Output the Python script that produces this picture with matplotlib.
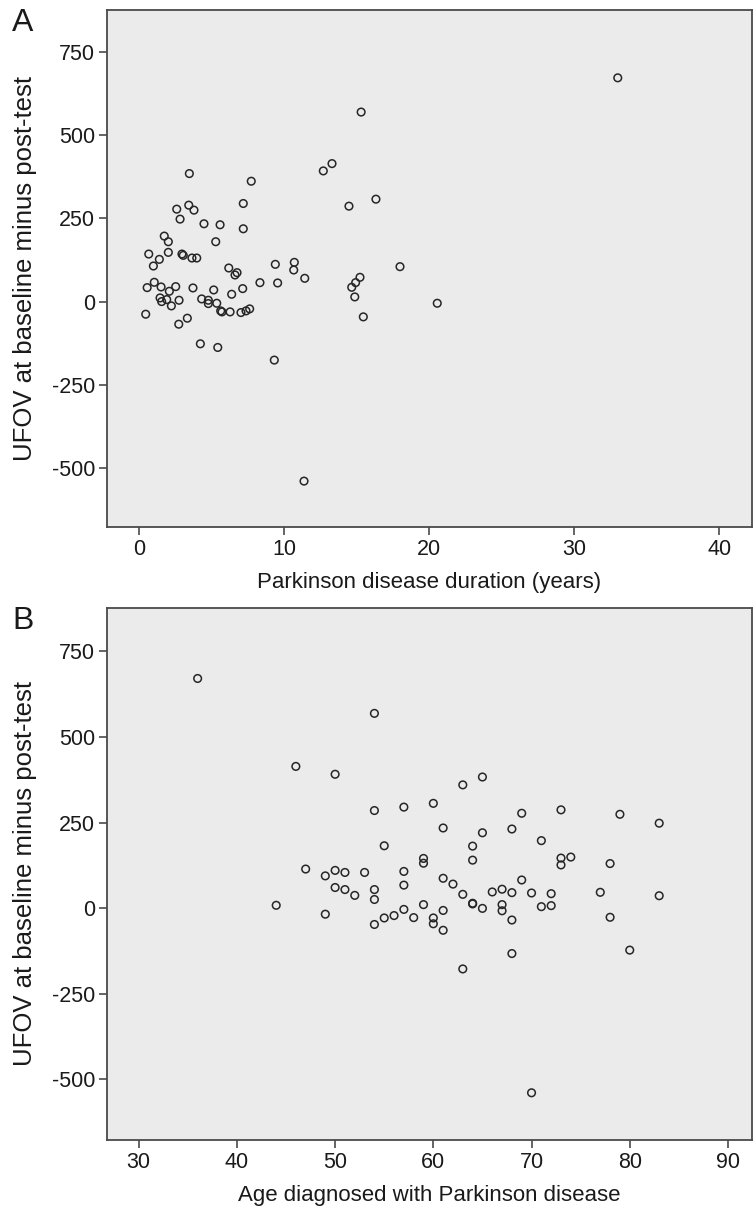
import matplotlib
matplotlib.use("Agg")
import matplotlib.pyplot as plt

plt.rcParams['font.family'] = ['Liberation Sans', 'DejaVu Sans']
plt.rcParams['axes.unicode_minus'] = False

# Panel A: disease duration (years) vs UFOV change
duration = [3.45, 7.72, 7.17, 3.41, 3.77, 2.58, 2.81, 4.46, 5.57, 7.17,
            5.27, 1.72, 2.0, 0.65, 1.38, 0.97, 2.0, 2.94, 3.03, 3.63,
            3.96, 6.17, 6.74, 6.6, 0.54, 1.03, 1.5, 2.07, 2.51, 3.7,
            5.13, 6.37, 7.13, 1.43, 1.54, 1.89, 2.21, 2.74, 4.3, 4.76,
            4.76, 5.34, 5.61, 5.7, 6.26, 7.01, 7.36, 7.61, 0.44, 2.72,
            3.31, 4.21, 5.41,
            15.3, 13.29, 12.69, 16.32, 14.46, 10.69, 10.65, 9.38, 8.32, 9.54,
            11.41, 15.22, 14.92, 14.65, 14.86, 15.45, 17.98, 20.55, 9.31, 11.36,
            33.0]
ufov_a = [385, 362, 295, 290, 275, 278, 248, 234, 231, 219,
          180, 197, 180, 143, 127, 107, 148, 143, 139, 131,
          131, 101, 87, 80, 42, 58, 44, 31, 45, 41,
          35, 22, 39, 11, 0, 6, -13, 4, 8, 4,
          -6, -5, -28, -31, -31, -33, -28, -22, -38, -68,
          -50, -127, -138,
          570, 415, 393, 308, 287, 118, 95, 112, 57, 56,
          70, 73, 57, 43, 14, -46, 105, -5, -176, -540,
          673]

# Panel B: age at diagnosis vs UFOV change
age_dx = [36, 54, 46, 50, 54, 55, 47, 49, 50, 51,
          53, 50, 51, 52, 54, 54, 44, 49, 54, 55,
          56, 65, 63, 57, 60, 69, 73, 79, 83, 61,
          65, 68, 71, 64, 64, 59, 59, 73, 73, 74,
          78, 57, 57, 61, 62, 63, 64, 64, 65, 66,
          67, 68, 69, 70, 72, 67, 67, 68, 71, 72,
          77, 83, 78, 80, 68, 59, 61, 60, 60, 61,
          58, 57, 63, 70]
ufov_b = [671, 569, 414, 391, 285, 182, 114, 94, 110, 104,
          104, 60, 54, 37, 54, 25, 8, -18, -48, -29,
          -22, 383, 360, 295, 306, 277, 287, 274, 248, 234,
          220, 231, 197, 181, 140, 145, 131, 146, 126, 149,
          130, 107, 67, 87, 70, 40, 14, 12, -1, 47,
          55, 45, 82, 44, 42, 10, -8, -35, 4, 7,
          46, 36, -27, -123, -133, 10, -7, -29, -46, -65,
          -28, -4, -178, -540]

bg = '#ebebeb'
frame = '#4a4a4a'
W, H = 753, 1208
fig = plt.figure(figsize=(W / 100, H / 100), dpi=100)

axA = fig.add_axes([107 / W, 1 - 527 / H, 645 / W, 517 / H])
axB = fig.add_axes([107 / W, 1 - 1140 / H, 645 / W, 532 / H])

panels = [
    (axA, duration, ufov_a, (-2.23, 42.26), [0, 10, 20, 30, 40],
     'Parkinson disease duration (years)', 'A', 10),
    (axB, age_dx, ufov_b, (26.77, 92.45), [30, 40, 50, 60, 70, 80, 90],
     'Age diagnosed with Parkinson disease', 'B', 608),
]

for ax, xs, ys, xlim, xticks, xlabel, letter, top in panels:
    ax.set_facecolor(bg)
    ax.scatter(xs, ys, s=30, facecolors='none', edgecolors='#262626',
               linewidths=1.1, zorder=3)
    ax.set_xlim(*xlim)
    ax.set_ylim(-678, 877)
    ax.set_xticks(xticks)
    ax.set_yticks([-500, -250, 0, 250, 500, 750])
    ax.tick_params(direction='out', length=6, width=1.2, colors=frame,
                   labelcolor='#1a1a1a', labelsize=15.5, pad=2.5)
    for sp in ax.spines.values():
        sp.set_color(frame)
        sp.set_linewidth(1.3)
    ax.set_xlabel(xlabel, fontsize=16, color='#1a1a1a', labelpad=9)
    ax.set_ylabel('UFOV at baseline minus post-test', fontsize=18.5,
                  color='#1a1a1a')
    ax.yaxis.set_label_coords(-70 / 645, 0.5)
    fig.text(12 / W, 1 - (top + 13) / H, letter, fontsize=23,
             color='#1a1a1a', va='center', ha='left')

fig.savefig('out.png', dpi=100)
